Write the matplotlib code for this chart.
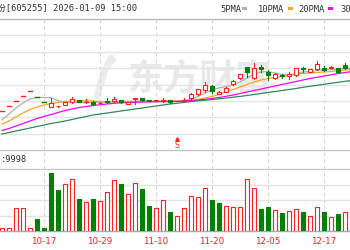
import matplotlib
matplotlib.use('Agg')
import matplotlib.pyplot as plt
from matplotlib.patches import Rectangle

# ---------------- data ----------------
tick_labels = ['09-25', '10-17', '10-29', '11-10', '11-20', '12-05', '12-17']
tick_index = [-2, 6, 14, 22, 30, 38, 46]

opens = [53.95, 54.42, 54.87, 55.40, 55.92, 55.27, 54.77, 54.27, 54.40, 54.50,
         54.83, 55.00, 54.85, 54.83, 54.70, 54.90, 54.90, 55.00, 54.65, 55.13,
         55.17, 54.95, 54.88, 54.90, 54.97, 54.88, 54.87, 55.17, 55.57, 56.00,
         56.43, 55.65, 55.83, 56.57, 57.17, 58.27, 57.17, 58.33, 57.77, 57.17,
         57.45, 57.40, 57.50, 58.20, 57.83, 58.10, 58.17, 58.20, 58.17, 58.50,
         58.00]
highs = [53.95, 54.42, 54.87, 55.40, 55.92, 55.27, 54.77, 55.23, 54.45, 54.77,
         55.33, 55.05, 55.10, 54.90, 54.80, 55.20, 55.33, 55.05, 54.80, 55.23,
         55.20, 54.97, 54.97, 55.17, 55.00, 54.92, 55.17, 55.70, 56.15, 56.83,
         56.55, 55.90, 56.30, 57.00, 57.65, 58.33, 58.67, 58.50, 58.00, 57.73,
         57.60, 57.83, 58.20, 58.33, 58.15, 58.90, 58.43, 58.40, 58.20, 58.67,
         58.40]
lows = [53.95, 54.42, 54.87, 55.40, 55.92, 55.27, 54.77, 54.27, 54.27, 54.50,
        54.67, 54.80, 54.70, 54.55, 54.70, 54.70, 54.80, 54.75, 54.60, 54.65,
        54.95, 54.90, 54.86, 54.77, 54.75, 54.86, 54.77, 55.10, 55.55, 55.83,
        55.75, 55.60, 55.80, 56.50, 57.10, 57.33, 57.10, 57.83, 57.00, 57.10,
        57.20, 57.10, 57.45, 57.80, 57.80, 58.05, 57.90, 58.17, 57.80, 58.10,
        57.95]
closes = [53.95, 54.42, 54.87, 55.40, 55.92, 55.27, 54.77, 54.67, 54.43, 54.77,
          55.07, 54.83, 54.85, 54.57, 54.75, 54.83, 55.10, 54.77, 54.78, 55.23,
          54.97, 54.92, 54.95, 55.00, 54.77, 54.90, 55.00, 55.57, 56.10, 56.50,
          55.90, 55.75, 56.23, 56.90, 57.57, 57.83, 58.23, 58.10, 57.50, 57.57,
          57.38, 57.60, 58.17, 58.07, 58.10, 58.57, 58.05, 58.30, 57.83, 58.17,
          58.33]
volumes = [2100, 2100, 16100, 16100, 2100, 8400, 2100, 40600, 28700, 32900,
           36400, 22400, 20300, 22400, 21000, 27300, 35700, 32900, 25900, 33600,
           29400, 17500, 16100, 21700, 13300, 10500, 16100, 24500, 23800, 30100,
           21700, 19600, 17500, 16800, 16800, 36400, 30100, 15400, 16800, 14700,
           12600, 14000, 15400, 13300, 10500, 16800, 13300, 9800, 11900, 13300,
           9800]

ma5 = [53.00, 53.60, 54.20, 54.70, 55.10, 55.25, 55.25, 55.23, 54.95, 54.77,
       54.75, 54.75, 54.77, 54.77, 54.77, 54.80, 54.83, 54.85, 54.85, 54.87,
       54.90, 54.90, 54.90, 54.90, 54.90, 54.90, 54.95, 55.10, 55.35, 55.70,
       56.00, 56.20, 56.35, 56.50, 56.80, 57.20, 57.60, 57.80, 57.85, 57.70,
       57.55, 57.50, 57.65, 57.80, 57.85, 57.95, 58.00, 58.05, 58.10, 58.15,
       58.17]
ma10 = [52.60, 52.90, 53.30, 53.70, 54.05, 54.30, 54.50, 54.65, 54.75, 54.85,
        54.90, 54.93, 54.93, 54.90, 54.85, 54.82, 54.80, 54.80, 54.80, 54.82,
        54.83, 54.83, 54.83, 54.85, 54.85, 54.85, 54.87, 54.95, 55.05, 55.20,
        55.35, 55.55, 55.80, 56.05, 56.30, 56.55, 56.80, 57.00, 57.15, 57.25,
        57.35, 57.45, 57.55, 57.65, 57.70, 57.75, 57.80, 57.85, 57.95, 58.00,
        58.05]
ma20 = [51.95, 52.15, 52.40, 52.65, 52.90, 53.15, 53.35, 53.55, 53.75, 53.95,
        54.10, 54.25, 54.35, 54.45, 54.52, 54.60, 54.67, 54.72, 54.75, 54.77,
        54.80, 54.82, 54.83, 54.84, 54.85, 54.87, 54.90, 54.95, 55.00, 55.07,
        55.15, 55.25, 55.37, 55.50, 55.65, 55.80, 55.95, 56.10, 56.25, 56.40,
        56.55, 56.70, 56.85, 57.00, 57.15, 57.27, 57.40, 57.52, 57.65, 57.75,
        57.85]
ma30 = [51.60, 51.75, 51.90, 52.05, 52.20, 52.35, 52.50, 52.65, 52.77, 52.90,
        53.05, 53.20, 53.35, 53.50, 53.60, 53.70, 53.80, 53.90, 54.00, 54.10,
        54.20, 54.30, 54.40, 54.50, 54.60, 54.68, 54.76, 54.84, 54.92, 54.98,
        55.05, 55.12, 55.20, 55.28, 55.36, 55.45, 55.55, 55.65, 55.75, 55.85,
        55.95, 56.05, 56.15, 56.27, 56.37, 56.47, 56.57, 56.67, 56.77, 56.87,
        56.95]

header_left = '份[605255] 2026-01-09 15:00'
legend_names = ['5PMA', '10PMA', '20PMA', '30PMA']
vol_label = ':9998'
signal_index = 25

# ---------------- style ----------------
W, H = 350, 250
RED = '#ff2020'
GREEN = '#008000'
MA_COLORS = ['#b0b0b0', '#f5a623', '#ff00ff', '#2e8b57']
GRID = '#e4e4e4'
MONO = ['DejaVu Sans Mono', 'Noto Sans CJK SC']

fig = plt.figure(figsize=(3.5, 2.5), dpi=100)
fig.patch.set_facecolor('white')

n = len(closes)
xlim = (-2 / 7, 348 / 7)


def pane(top, bottom):
    a = fig.add_axes([0, 1 - bottom / H, 1, (bottom - top) / H])
    a.set_facecolor('none')
    a.set_xlim(*xlim)
    for s in a.spines.values():
        s.set_visible(False)
    a.tick_params(left=False, bottom=False, labelleft=False, labelbottom=False)
    a.set_zorder(2)
    return a


# background overlay in pixel-y coordinates
bg = fig.add_axes([0, 0, 1, 1])
bg.set_xlim(*xlim)
bg.set_ylim(H, 0)
bg.axis('off')
bg.set_zorder(0)

# watermark (logo swoosh + name)
for k, (dy, lw) in enumerate([(0, 5), (7, 4), (14, 3)]):
    bg.plot([13.6 + k * 0.25, 14.6 + k * 0.25, 15.6 + k * 0.2],
            [96 - dy, 72 - dy * 0.6, 58 + dy * 0.2],
            color='#ececec', lw=lw, solid_capstyle='round', zorder=0)
bg.text(128 / 7 - 2 / 7, 79, '东方财富', family=['Noto Sans CJK SC'],
        fontsize=26, fontweight='bold', color='#e8e8e8', va='center', ha='left')

# pane separator lines
for y, c in [(19, '#b8b8b8'), (150, '#c4c4c4'), (169, '#c8c8c8'), (231, '#a8a8a8')]:
    bg.axhline(y, color=c, lw=1.0)
# vertical dashed lines
for t in tick_index:
    bg.plot([t, t], [19, 231], color='#d4d4d4', lw=0.8, ls=(0, (3, 3)))

# ---------------- main pane ----------------
ax = pane(19, 150)
ax.set_ylim(50.0, 63.1)
for k in range(1, 8):
    ax.axhline(50.0 + k * 13.1 / 8, color=GRID, lw=1.0, zorder=0)

xs = list(range(n))
for m, c in zip([ma5, ma10, ma20, ma30], MA_COLORS):
    ax.plot(xs, m, color=c, lw=0.9, zorder=2)

bw = 0.64
for i in range(n):
    o, h, l, c = opens[i], highs[i], lows[i], closes[i]
    if c > o:
        up = True
    elif c < o:
        up = False
    else:
        up = (i == 0) or c >= closes[i - 1]
    col = RED if up else GREEN
    ax.plot([i, i], [l, h], color=col, lw=0.8, zorder=3)
    if abs(c - o) < 1e-9:
        ax.plot([i - bw / 2, i + bw / 2], [c, c], color=col, lw=1.0, zorder=4)
    else:
        ax.add_patch(Rectangle((i - bw / 2, min(o, c)), bw, abs(c - o),
                               facecolor='white' if up else GREEN,
                               edgecolor=col, lw=0.8, zorder=4))

# signal marker
bg.plot([signal_index], [139], marker='^', color=RED, ms=2.5, zorder=5)
bg.text(signal_index, 145.5, 'S', color=RED, fontsize=5.5, ha='center',
        va='center', family='DejaVu Sans')

# ---------------- volume pane ----------------
axv = pane(169, 231)
vmax = 43400
axv.set_ylim(0, vmax)
for k in range(1, 4):
    axv.axhline(k * vmax / 4, color=GRID, lw=1.0, zorder=0)
for i in range(n):
    up = (i == 0) or closes[i] >= closes[i - 1]
    axv.add_patch(Rectangle((i - bw / 2, 0), bw, volumes[i],
                            facecolor='white' if up else GREEN,
                            edgecolor=RED if up else GREEN, lw=0.8, zorder=3))

# ---------------- texts ----------------
fig.text(-3 / W, 1 - 9 / H, header_left, family=MONO, fontsize=6.3,
         color='#333333', va='center', ha='left')

leg_x = [220, 258, 298, 340]
sw_x = [242, 288, 328, 370]
for name, lx, sx, c in zip(legend_names, leg_x, sw_x, MA_COLORS):
    fig.text(lx / W, 1 - 9 / H, name, family=MONO, fontsize=6.3,
             color='#333333', va='center', ha='left')
    fig.add_artist(Rectangle((sx / W, 1 - 9.5 / H), 5 / W, 2.5 / H,
                             transform=fig.transFigure, facecolor=c,
                             edgecolor='none'))

fig.text(1 / W, 1 - 160 / H, vol_label, family=MONO, fontsize=6.3,
         color='#333333', va='center', ha='left')

for lab, t in zip(tick_labels, tick_index):
    bg.text(t, 241, lab, color=RED, fontsize=6.3, ha='center', va='center',
            family='DejaVu Sans', clip_on=False)

fig.savefig('out.png', dpi=100, facecolor='white')
